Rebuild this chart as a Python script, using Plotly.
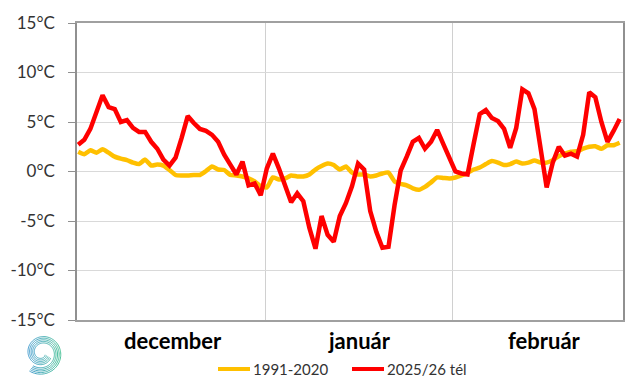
import math
import plotly.graph_objects as go

# ---- data ----
months = ["december", "január", "február"]
month_days = [31, 31, 28]
month_label_pos = [15.6, 46.2, 76.6]
month_bounds = [30.75, 61.6]

y_ticks = [-15, -10, -5, 0, 5, 10, 15]
y_tick_labels = ["-15°C", "-10°C", "-5°C", "0°C", "5°C", "10°C", "15°C"]

series_names = ["1991-2020", "2025/26 tél"]
series_colors = ["#FFC000", "#FF0000"]

normal_1991_2020 = [
    2.0, 1.75, 2.15, 1.9, 2.25, 1.9, 1.5, 1.3, 1.15, 0.9, 0.75, 1.2, 0.6, 0.7, 0.6, 0.15,
    -0.35, -0.4, -0.4, -0.35, -0.35, 0.05, 0.5, 0.2, 0.15, -0.35, -0.4, -0.5, -0.7, -1.0, -1.5,
    -1.6, -0.6, -0.8, -0.7, -0.4, -0.5, -0.5, -0.3, 0.2, 0.55, 0.8, 0.65, 0.2, 0.5, -0.1, -0.3,
    -0.3, -0.5, -0.4, -0.2, -0.1, -1.0, -1.25, -1.4, -1.7, -1.85, -1.55, -1.1, -0.6, -0.65, -0.7,
    -0.6, -0.4, -0.15, 0.2, 0.4, 0.75, 1.05, 0.9, 0.65, 0.75, 1.0, 0.8, 0.9, 1.1, 0.9, 0.9,
    1.15, 1.55, 1.8, 2.0, 2.05, 2.3, 2.5, 2.55, 2.3, 2.65, 2.65, 2.9,
]
winter_2025_26 = [
    2.7, 3.2, 4.3, 6.0, 7.7, 6.5, 6.3, 5.0, 5.2, 4.4, 4.0, 4.0, 3.0, 2.3, 1.2, 0.6,
    1.4, 3.4, 5.6, 4.9, 4.3, 4.1, 3.7, 3.0, 1.7, 0.7, -0.3, 1.0, -1.4, -1.2, -2.4,
    0.3, 1.8, 0.3, -1.5, -3.1, -2.2, -3.0, -5.7, -7.8, -4.5, -6.4, -7.1, -4.5, -3.2, -1.5,
    0.8, 0.2, -4.0, -6.1, -7.7, -7.6, -3.4, 0.1, 1.5, 3.0, 3.4, 2.3, 3.0, 4.2, 2.8, 1.5,
    0.0, -0.2, -0.3, 2.8, 5.8, 6.2, 5.4, 5.1, 4.3, 2.4, 4.4, 8.3, 7.9, 6.3, 2.5, -1.6,
    0.9, 2.5, 1.6, 1.8, 1.5, 3.7, 8.0, 7.5, 5.0, 3.0, 4.1, 5.3,
]
days = list(range(sum(month_days)))

# ---- layout geometry (page has an 8px body margin) ----
OFF = 8
W, H = 640 - OFF, 384 - OFF
ML, MT = 77 - OFF, 23 - OFF
MR = W - (623 - OFF)
MB = H - (320 - OFF)
PW, PH = W - ML - MR, H - MT - MB


def px_to_paper(px, py):
    """window pixel -> paper coords"""
    fx, fy = px - OFF, py - OFF
    return (fx - ML) / PW, (H - MB - fy) / PH


fig = go.Figure()
fig.add_trace(go.Scatter(
    x=days, y=normal_1991_2020, mode="lines", name=series_names[0],
    line=dict(color=series_colors[0], width=4.5, shape="spline", smoothing=0.5),
))
fig.add_trace(go.Scatter(
    x=days, y=winter_2025_26, mode="lines", name=series_names[1],
    line=dict(color=series_colors[1], width=4.5),
))

annotations = []
shapes = []
for name, pos in zip(months, month_label_pos):
    annotations.append(dict(
        x=pos, y=px_to_paper(0, 340)[1], xref="x", yref="paper", text=f"<b>{name}</b>",
        showarrow=False, yanchor="middle", xanchor="center",
        font=dict(family="Lato, sans-serif", size=22, color="#000000"),
    ))

# ---- legend (drawn manually, bottom centre) ----
legend_x = [218, 352]
legend_y = 369
for name, col, lx in zip(series_names, series_colors, legend_x):
    x0, y0 = px_to_paper(lx, legend_y)
    x1, _ = px_to_paper(lx + 32, legend_y)
    shapes.append(dict(type="line", xref="paper", yref="paper", x0=x0, x1=x1, y0=y0, y1=y0,
                       line=dict(color=col, width=4)))
    tx, _ = px_to_paper(lx + 33, legend_y)
    annotations.append(dict(
        x=tx, y=y0, xref="paper", yref="paper", text=name, showarrow=False,
        xanchor="left", yanchor="middle",
        font=dict(family="Lato, sans-serif", size=15, color="#333333"),
    ))

# ---- decorative logo (spiral) ----
cx, cy = 42, 353
blue = (52, 140, 214)
green = (60, 190, 140)
n_seg = 40
th0, th1 = math.radians(125), math.radians(-330)
for k in range(5):
    off = k * 1.6
    for s in range(n_seg):
        ta = th0 + (th1 - th0) * s / n_seg
        tb = th0 + (th1 - th0) * (s + 1) / n_seg
        pts = []
        for j in range(4):
            t = ta + (tb - ta) * j / 3
            frac = (t - th0) / (th1 - th0)
            r = max(22 - off - 12 * frac, 2)
            pts.append((cx + r * math.cos(t), cy + r * math.sin(t)))
        mx = sum(p[0] for p in pts) / len(pts)
        f = min(max((mx - (cx - 20)) / 40, 0), 1)
        col = "rgb(%d,%d,%d)" % tuple(int(blue[i] + (green[i] - blue[i]) * f) for i in range(3))
        path = ""
        for j, (px, py) in enumerate(pts):
            qx, qy = px_to_paper(px, py)
            path += ("M" if j == 0 else "L") + f"{qx:.5f},{qy:.5f} "
        shapes.append(dict(type="path", path=path, xref="paper", yref="paper",
                           line=dict(color=col, width=0.9), layer="above"))

fig.update_layout(
    width=W, height=H,
    margin=dict(l=ML, r=MR, t=MT, b=MB, autoexpand=False),
    paper_bgcolor="white", plot_bgcolor="white",
    font=dict(family="Lato, sans-serif", color="#333333"),
    showlegend=False,
    annotations=annotations,
    shapes=shapes,
)
fig.update_xaxes(
    range=[-0.2, 89.55], tickvals=month_bounds, showticklabels=False,
    showgrid=True, gridcolor="#d0d0d0", gridwidth=1, zeroline=False,
    showline=True, linecolor="#a0a0a0", linewidth=1.5, mirror=True, ticks="",
    automargin=False,
)
fig.update_yaxes(
    range=[-15, 15], tickvals=y_ticks, ticktext=y_tick_labels,
    showgrid=True, gridcolor="#d9d9d9", gridwidth=1, zeroline=False,
    showline=True, linecolor="#909090", linewidth=1.5, mirror=True,
    ticks="outside", ticklen=7, tickcolor="#909090", ticklabelstandoff=10,
    tickfont=dict(family="Lato, sans-serif", size=17, color="#333333"),
    automargin=False,
)

fig.write_html("out.html")
